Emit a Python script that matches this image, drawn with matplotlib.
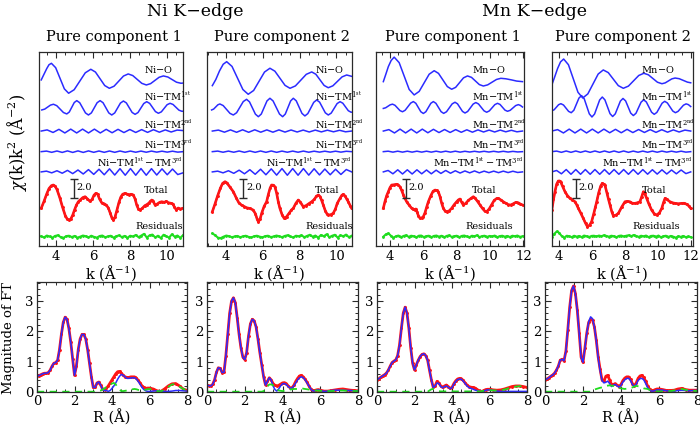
import numpy as np
import matplotlib
matplotlib.use("Agg")
import matplotlib.pyplot as plt
from matplotlib.ticker import MultipleLocator, FixedLocator
from matplotlib.transforms import blended_transform_factory

# ---------------- chi(k)k^2 data (top row) ----------------
# Ni K-edge, pure component 1
NI1_KRANGE = (3.2, 10.86)
NI1_O_K = [3.2, 3.35, 3.5, 3.62, 3.75, 3.98, 4.215, 4.45, 4.68, 4.98, 5.28, 5.58, 5.88, 6.13, 6.38, 6.63, 6.88,
           7.135, 7.39, 7.645, 7.9, 8.145, 8.39, 8.635, 8.88, 9.11, 9.34, 9.57, 9.8, 10.04, 10.275, 10.51, 10.75, 10.86]
NI1_O = [-0.1, 0.5, 1.1, 1.5, 1.65, 1.19, 0.075, -1.04, -1.5, -1.13, -0.24, 0.65, 1.02, 0.73, 0.02, -0.69, -0.98,
         -0.76, -0.225, 0.31, 0.53, 0.36, -0.05, -0.46, -0.63, -0.49, -0.155, 0.18, 0.32, 0.21, -0.065, -0.34, -0.45, -0.43]
NI1_TM1_K = [3.23, 3.39, 3.545, 3.70, 3.86, 4.04, 4.22, 4.40, 4.58, 4.715, 4.85, 4.985, 5.12, 5.28, 5.435, 5.59, 5.75,
             5.91, 6.065, 6.22, 6.38, 6.54, 6.695, 6.85, 7.01, 7.17, 7.325, 7.48, 7.64, 7.80, 7.955, 8.11, 8.27, 8.43,
             8.585, 8.74, 8.9, 9.06, 9.215, 9.37, 9.53, 9.69, 9.845, 10.0, 10.16, 10.32, 10.48, 10.64, 10.8, 10.86]
NI1_TM1 = [-0.26, -0.17, 0.04, 0.25, 0.34, 0.19, -0.17, -0.53, -0.68, -0.48, 0.02, 0.52, 0.72, 0.50, -0.035, -0.57, -0.79,
           -0.57, -0.035, 0.50, 0.72, 0.50, -0.035, -0.57, -0.79, -0.575, -0.055, 0.465, 0.68, 0.48, -0.02, -0.52, -0.72,
           -0.53, -0.055, 0.415, 0.61, 0.43, 0.0, -0.43, -0.61, -0.46, -0.085, 0.29, 0.44, 0.32, 0.02, -0.28, -0.4, -0.39]
NI1_TM2 = [0.0, 0.12, -0.15, 0.18, -0.2, 0.2, -0.2, 0.2, -0.2, 0.2, -0.2, 0.18, -0.18, 0.18, -0.16, 0.16, -0.15, 0.15,
           -0.14, 0.14, -0.12, 0.12, -0.1, 0.1, 0.05]
NI1_TM3 = [0, 0.06, -0.07, 0.07, -0.08, 0.08, -0.08, 0.08, -0.08, 0.08, -0.07, 0.07, -0.07, 0.07, -0.07, 0.07, -0.06,
           0.06, -0.06, 0.06, -0.06, 0.06, -0.05, 0.05, -0.05, 0.05, -0.05, 0.0]
NI1_TM13 = [0.0, 0.08, -0.1, 0.12, -0.14, 0.16, -0.18, 0.2, -0.22, 0.24, -0.26, 0.28, -0.3, 0.32, -0.33, 0.34, -0.35,
            0.35, -0.35, 0.35, -0.35, 0.34, -0.33, 0.32, -0.3, 0.3, -0.28, -0.1]
NI1_TOT_K = [3.2, 3.35, 3.5, 3.62, 3.75, 3.85, 3.95, 4.05, 4.2, 4.35, 4.5, 4.6, 4.7, 4.8, 4.9, 5.0, 5.1, 5.2, 5.3, 5.45,
             5.57, 5.7, 5.84, 5.95, 6.05, 6.15, 6.25, 6.35, 6.47, 6.6, 6.72, 6.83, 6.93, 7.03, 7.1, 7.18, 7.28, 7.4, 7.5,
             7.6, 7.73, 7.85, 7.95, 8.05, 8.18, 8.28, 8.36, 8.45, 8.54, 8.65, 8.8, 8.9, 9.0, 9.1, 9.17, 9.25, 9.35, 9.45,
             9.6, 9.71, 9.85, 9.95, 10.07, 10.2, 10.3, 10.4, 10.5, 10.6, 10.7, 10.85]
NI1_TOT = [-0.03, 0.7, 1.5, 2.05, 2.35, 2.42, 2.3, 1.95, 1.1, 0.1, -0.8, -1.15, -1.26, -1.15, -0.75, -0.2, 0.3, 0.65,
           0.84, 1.1, 1.19, 0.95, 0.7, 0.9, 1.35, 1.55, 1.45, 0.95, 0.55, 0.45, 0.3, 0.0, -0.55, -1.1, -1.26, -1.0, -0.3,
           0.6, 1.15, 1.45, 1.55, 1.45, 1.4, 1.45, 1.37, 0.9, 0.3, -0.1, -0.21, -0.05, 0.25, 0.35, 0.49, 0.7, 0.84, 0.7,
           0.32, 0.4, 0.6, 0.66, 0.6, 0.7, 0.56, 0.5, 0.45, 0.1, -0.21, 0.0, -0.1, -0.03]
NI1_RES = [0.05, -0.08, 0.12, 0.02, -0.1, 0.08, 0.15, -0.05, -0.12, 0.06, 0.1, -0.04, 0.08, -0.1, 0.0, 0.12, 0.05, -0.08,
           0.1, -0.02, -0.1, 0.07, 0.12, -0.06, 0.03, 0.1, -0.1, 0.05, 0.14, -0.04, 0.08, -0.12, 0.1, 0.02, 0.18, -0.05,
           0.12, 0.3, -0.1, 0.15, 0.22, -0.08, 0.1, -0.15, 0.2, 0.05, -0.1, 0.25, 0.0, 0.12, -0.12, 0.15]

# Ni K-edge, pure component 2
NI2_KRANGE = (3.26, 10.83)
NI2_O_K = [3.26, 3.45, 3.65, 3.85, 4.04, 4.33, 4.625, 4.92, 5.21, 5.505, 5.8, 6.095, 6.39, 6.66, 6.935, 7.21, 7.48,
           7.775, 8.07, 8.365, 8.66, 8.885, 9.11, 9.335, 9.56, 9.81, 10.06, 10.31, 10.56, 10.83]
NI2_O = [-0.7, -0.05, 0.85, 1.55, 1.82, 1.32, 0.105, -1.11, -1.61, -1.21, -0.24, 0.73, 1.13, 0.82, 0.075, -0.67, -0.98,
         -0.73, -0.12, 0.49, 0.74, 0.5, -0.09, -0.68, -0.92, -0.72, -0.25, 0.22, 0.42, 0.28]
NI2_TM1_K = [3.22, 3.33, 3.445, 3.56, 3.67, 3.85, 4.035, 4.22, 4.4, 4.58, 4.76, 4.94, 5.12, 5.28, 5.44, 5.6, 5.76, 5.92,
             6.075, 6.23, 6.39, 6.56, 6.735, 6.91, 7.08, 7.225, 7.37, 7.515, 7.66, 7.82, 7.975, 8.13, 8.29, 8.45, 8.61,
             8.77, 8.93, 9.09, 9.245, 9.4, 9.56, 9.72, 9.88, 10.04, 10.2, 10.35, 10.5, 10.65, 10.8, 10.85]
NI2_TM1 = [-0.26, -0.17, 0.055, 0.28, 0.37, 0.2, -0.21, -0.62, -0.79, -0.55, 0.035, 0.62, 0.86, 0.59, -0.055, -0.70,
           -0.97, -0.69, 0.0, 0.69, 0.97, 0.69, 0.0, -0.69, -0.97, -0.69, 0.0, 0.69, 0.97, 0.70, 0.04, -0.62, -0.89,
           -0.64, -0.05, 0.54, 0.79, 0.56, 0.0, -0.56, -0.79, -0.59, -0.09, 0.41, 0.61, 0.45, 0.055, -0.34, -0.5, -0.49]
NI2_TM2 = [0.0, 0.1, -0.12, 0.12, -0.13, 0.13, -0.13, 0.13, -0.12, 0.12, -0.12, 0.12, -0.11, 0.11, -0.1, 0.1, -0.1, 0.1,
           -0.09, 0.09, -0.08, 0.08, -0.08, 0.0]
NI2_TM3 = [0, 0.06, -0.06, 0.06, -0.06, 0.07, -0.07, 0.07, -0.07, 0.07, -0.07, 0.07, -0.07, 0.06, -0.06, 0.06, -0.06,
           0.06, -0.06, 0.05, -0.05, 0.05, -0.05, 0.05, -0.05, 0.04, 0.0]
NI2_TM13 = [0.0, 0.08, -0.1, 0.12, -0.15, 0.18, -0.2, 0.23, -0.25, 0.28, -0.3, 0.32, -0.34, 0.35, -0.35, 0.35, -0.35,
            0.35, -0.34, 0.33, -0.32, 0.3, -0.3, 0.28, -0.27, 0.25, 0.0]
NI2_TOT_K = [3.26, 3.4, 3.55, 3.7, 3.82, 3.95, 4.05, 4.2, 4.4, 4.55, 4.7, 4.85, 5.0, 5.12, 5.3, 5.48, 5.6, 5.7, 5.76,
             5.85, 5.95, 6.08, 6.21, 6.3, 6.4, 6.48, 6.58, 6.66, 6.75, 6.85, 6.93, 7.05, 7.15, 7.21, 7.3, 7.45, 7.56,
             7.66, 7.8, 7.93, 8.05, 8.2, 8.35, 8.5, 8.66, 8.8, 8.92, 9.02, 9.12, 9.2, 9.29, 9.4, 9.5, 9.56, 9.7, 9.83,
             9.95, 10.05, 10.2, 10.3, 10.38, 10.48, 10.56, 10.65, 10.75, 10.83]
NI2_TOT = [-0.39, 0.4, 1.3, 2.1, 2.6, 2.77, 2.65, 2.25, 1.72, 1.1, 0.55, 0.3, 0.15, 0.03, -0.05, -0.21, -0.6, -1.2, -1.44,
           -1.2, -0.5, 0.2, 0.66, 1.4, 2.1, 2.42, 2.4, 2.24, 1.6, 0.6, -0.03, -0.7, -1.05, -1.08, -0.9, -0.5, -0.2, -0.03,
           0.5, 0.84, 0.6, 0.14, 0.25, 0.45, 0.66, 0.9, 1.25, 1.37, 1.2, 0.8, 0.32, -0.3, -0.65, -0.74, -0.7, -0.56,
           -0.1, 0.5, 1.02, 1.35, 1.44, 1.25, 0.95, 0.66, 0.25, -0.03]
NI2_RES = [0.35, 0.15, -0.1, -0.15, 0.0, 0.12, 0.05, -0.05, 0.02, 0.08, -0.06, 0.04, 0.1, -0.02, -0.08, 0.05, 0.1, 0.0,
           -0.06, 0.06, 0.1, -0.04, 0.02, 0.12, 0.05, -0.05, 0.08, 0.15, 0.02, -0.08, 0.1, 0.05, 0.15, -0.05, 0.08, 0.2,
           0.0, 0.12, -0.1, 0.18, 0.05, 0.25, -0.05, 0.1, 0.2, -0.1, 0.15, 0.05, 0.22, -0.05, 0.1]

# Mn K-edge, pure component 1
MN1_KRANGE = (3.6, 11.95)
MN1_O_K = [3.6, 3.75, 3.9, 4.07, 4.25, 4.55, 4.85, 5.15, 5.45, 5.75, 6.05, 6.35, 6.65, 6.91, 7.175, 7.44, 7.7, 7.94,
           8.175, 8.41, 8.65, 8.89, 9.125, 9.36, 9.6, 9.86, 10.125, 10.39, 10.65, 10.95, 11.3, 11.6, 11.95]
MN1_O = [-0.28, 0.5, 1.3, 1.95, 2.3, 1.72, 0.31, -1.10, -1.68, -1.31, -0.405, 0.50, 0.87, 0.59, -0.105, -0.80, -1.08,
         -0.88, -0.38, 0.12, 0.32, 0.17, -0.21, -0.59, -0.74, -0.62, -0.335, -0.05, 0.07, 0.02, -0.1, -0.22, -0.28]
MN1_TM1_K = [3.6, 3.74, 3.875, 4.01, 4.15, 4.3, 4.45, 4.6, 4.75, 4.91, 5.075, 5.24, 5.4, 5.55, 5.7, 5.85, 6.0, 6.15,
             6.3, 6.45, 6.6, 6.755, 6.91, 7.065, 7.22, 7.39, 7.56, 7.73, 7.9, 8.05, 8.2, 8.35, 8.5, 8.66, 8.825, 8.99,
             9.15, 9.31, 9.475, 9.64, 9.8, 9.96, 10.125, 10.29, 10.45, 10.6, 10.75, 10.9, 11.05, 11.21, 11.375, 11.54,
             11.7, 11.82, 11.95]
MN1_TM1 = [-0.1, -0.03, 0.125, 0.28, 0.35, 0.23, -0.05, -0.33, -0.45, -0.29, 0.085, 0.46, 0.62, 0.44, -0.005, -0.45,
           -0.63, -0.45, -0.005, 0.44, 0.62, 0.44, 0.0, -0.44, -0.62, -0.45, -0.035, 0.38, 0.55, 0.385, -0.015, -0.415,
           -0.58, -0.42, -0.03, 0.36, 0.52, 0.37, 0.01, -0.35, -0.5, -0.36, -0.03, 0.30, 0.44, 0.32, 0.02, -0.28, -0.4,
           -0.3, -0.05, 0.2, 0.3, 0.22, 0.05]
MN1_TM2 = [0.0, 0.15, -0.2, 0.2, -0.2, 0.2, -0.2, 0.2, -0.18, 0.18, -0.16, 0.16, -0.15, 0.15, -0.13, 0.13, -0.12, 0.12,
           -0.1, 0.1, -0.1, 0.1, -0.08, 0.08, -0.08, 0.0]
MN1_TM3 = [0, 0.05, -0.05, 0.05, -0.05, 0.05, -0.05, 0.05, -0.05, 0.05, -0.05, 0.05, -0.05, 0.05, -0.05, 0.05, -0.05,
           0.04, -0.04, 0.04, -0.04, 0.04, -0.04, 0.04, -0.04, 0.04, -0.04, 0.03, -0.03, 0.0]
MN1_TM13 = [0.0, 0.15, -0.2, 0.22, -0.22, 0.22, -0.22, 0.22, -0.2, 0.2, -0.2, 0.18, -0.16, 0.15, -0.14, 0.12, -0.12,
            0.1, -0.1, 0.1, -0.1, 0.08, -0.08, 0.08, -0.08, 0.08, -0.07, 0.07, -0.06, 0.0]
MN1_TOT_K = [3.6, 3.7, 3.8, 3.9, 4.0, 4.1, 4.25, 4.4, 4.5, 4.6, 4.7, 4.8, 4.9, 5.0, 5.15, 5.3, 5.4, 5.5, 5.55, 5.62,
             5.7, 5.8, 5.9, 6.0, 6.1, 6.2, 6.3, 6.45, 6.58, 6.7, 6.8, 6.9, 7.0, 7.1, 7.2, 7.3, 7.4, 7.55, 7.7, 7.85,
             8.0, 8.1, 8.2, 8.3, 8.4, 8.55, 8.7, 8.85, 9.0, 9.1, 9.25, 9.4, 9.55, 9.7, 9.8, 9.95, 10.1, 10.25, 10.4,
             10.5, 10.65, 10.8, 10.95, 11.1, 11.25, 11.4, 11.55, 11.7, 11.82, 11.95]
MN1_TOT = [-0.03, 0.7, 1.3, 1.72, 2.15, 2.42, 2.45, 2.5, 2.4, 2.24, 1.85, 1.4, 1.0, 0.66, 0.3, -0.03, -0.15, -0.21,
           -0.1, -0.4, -0.8, -1.08, -1.05, -0.91, -0.5, 0.1, 0.66, 1.3, 1.75, 1.89, 1.85, 1.72, 1.2, 0.5, -0.03, -0.3,
           -0.39, -0.3, -0.03, 0.35, 0.66, 0.85, 0.95, 0.6, 0.32, 0.5, 0.8, 1.0, 1.19, 1.05, 0.7, 0.32, -0.05, -0.35,
           -0.39, -0.1, 0.35, 0.8, 1.0, 1.02, 0.85, 0.66, 0.5, 0.35, 0.32, 0.45, 0.6, 0.55, 0.42, 0.32]
MN1_RES = [0.0, 0.25, 0.35, 0.1, -0.1, 0.05, 0.12, -0.05, 0.08, 0.15, -0.02, 0.1, 0.05, -0.08, 0.1, 0.12, -0.04, 0.06,
           0.1, -0.05, 0.08, 0.12, 0.0, 0.1, -0.06, 0.08, 0.14, -0.02, 0.05, 0.1, -0.05, 0.08, 0.12, 0.02, -0.06, 0.1,
           0.04, 0.15, -0.04, 0.06, 0.1, -0.02, 0.08, 0.02, 0.12, -0.05, 0.06, 0.1, 0.0, 0.08, -0.04, 0.1, 0.05, 0.12,
           -0.02, 0.05]

# Mn K-edge, pure component 2
MN2_KRANGE = (3.55, 12.0)
MN2_O_K = [3.55, 3.72, 3.9, 4.08, 4.27, 4.56, 4.85, 5.14, 5.43, 5.74, 6.055, 6.37, 6.68, 6.985, 7.29, 7.595, 7.9, 8.21,
           8.525, 8.84, 9.15, 9.425, 9.7, 9.975, 10.25, 10.45, 10.65, 10.85, 11.05, 11.3, 11.55, 11.8, 12.0]
MN2_O = [-0.63, 0.2, 1.1, 1.8, 2.1, 1.5, 0.05, -1.4, -2.0, -1.57, -0.525, 0.52, 0.95, 0.67, -0.015, -0.70, -0.98, -0.75,
         -0.19, 0.37, 0.6, 0.44, 0.05, -0.34, -0.5, -0.41, -0.2, 0.01, 0.1, 0.03, -0.15, -0.33, -0.4]
MN2_TM1_K = [3.55, 3.69, 3.825, 3.96, 4.1, 4.26, 4.415, 4.57, 4.73, 4.89, 5.045, 5.2, 5.36, 5.52, 5.675, 5.83, 5.99,
             6.15, 6.305, 6.46, 6.62, 6.78, 6.935, 7.09, 7.25, 7.41, 7.565, 7.72, 7.88, 8.04, 8.195, 8.35, 8.51, 8.67,
             8.825, 8.98, 9.14, 9.3, 9.46, 9.62, 9.78, 9.94, 10.1, 10.26, 10.42, 10.58, 10.745, 10.91, 11.07, 11.23,
             11.395, 11.56, 11.72, 11.86, 12.0]
MN2_TM1 = [-0.35, -0.24, 0.025, 0.29, 0.4, 0.26, -0.075, -0.41, -0.55, -0.29, 0.35, 0.99, 1.25, 0.92, 0.125, -0.67,
           -1.0, -0.69, 0.05, 0.79, 1.1, 0.8, 0.075, -0.65, -0.95, -0.67, 0.0, 0.67, 0.95, 0.69, 0.05, -0.59, -0.85,
           -0.61, -0.025, 0.56, 0.8, 0.58, 0.04, -0.5, -0.72, -0.52, -0.035, 0.45, 0.65, 0.475, 0.05, -0.375, -0.55,
           -0.41, -0.085, 0.24, 0.38, 0.3, 0.1]
MN2_TM2 = [0.0, 0.15, -0.2, 0.2, -0.2, 0.2, -0.2, 0.2, -0.2, 0.2, -0.18, 0.18, -0.18, 0.18, -0.16, 0.16, -0.15, 0.15,
           -0.14, 0.14, -0.12, 0.12, -0.1, 0.1, 0.0]
MN2_TM3 = [0, 0.06, -0.07, 0.07, -0.07, 0.07, -0.07, 0.07, -0.07, 0.07, -0.07, 0.07, -0.07, 0.07, -0.07, 0.07, -0.07,
           0.06, -0.06, 0.06, -0.06, 0.06, -0.06, 0.06, -0.05, 0.05, -0.05, 0.05, -0.05, 0.0]
MN2_TM13 = [0.0, 0.15, -0.2, 0.25, -0.25, 0.25, -0.25, 0.25, -0.25, 0.25, -0.25, 0.25, -0.25, 0.25, -0.25, 0.25, -0.25,
            0.25, -0.25, 0.24, -0.24, 0.23, -0.23, 0.22, -0.22, 0.2, -0.2, 0.2, -0.18, 0.0]
MN2_TOT_K = [3.55, 3.65, 3.74, 3.84, 3.94, 4.02, 4.1, 4.2, 4.35, 4.5, 4.65, 4.8, 4.96, 5.06, 5.16, 5.3, 5.46, 5.6, 5.72,
             5.85, 5.97, 6.1, 6.2, 6.28, 6.4, 6.52, 6.62, 6.72, 6.78, 6.9, 7.0, 7.09, 7.2, 7.29, 7.45, 7.6, 7.8, 8.0,
             8.15, 8.3, 8.45, 8.61, 8.75, 8.91, 9.02, 9.12, 9.2, 9.32, 9.45, 9.62, 9.78, 9.93, 10.1, 10.24, 10.35,
             10.44, 10.55, 10.74, 10.9, 11.05, 11.25, 11.45, 11.6, 11.76, 11.9, 12.0]
MN2_TOT = [-0.21, 0.9, 1.72, 2.5, 2.84, 2.85, 2.7, 2.3, 1.72, 1.3, 1.02, 0.85, 0.66, 0.35, -0.03, -0.5, -1.08, -1.6,
           -1.97, -1.8, -1.44, -0.6, 0.1, 0.66, 1.6, 2.3, 2.6, 2.5, 2.42, 1.6, 0.9, 0.32, -0.4, -0.81, -0.75, -0.56, 0.1,
           0.66, 0.7, 0.66, 0.5, 0.49, 0.55, 0.66, 1.2, 1.72, 1.55, 1.02, 0.45, -0.21, -0.6, -0.74, -0.5, -0.03, 0.6,
           1.02, 0.9, 0.66, 0.55, 0.49, 0.45, 0.49, 0.5, 0.39, 0.2, -0.03]
MN2_RES = [0.0, 0.3, 0.55, 0.4, 0.05, -0.1, 0.1, 0.05, -0.05, 0.1, 0.0, 0.08, -0.05, 0.12, 0.05, -0.04, 0.08, 0.1, 0.02,
           0.12, 0.05, 0.15, 0.08, 0.0, 0.1, 0.05, -0.06, 0.08, 0.12, 0.02, 0.1, 0.15, 0.05, 0.18, 0.08, -0.02, 0.1,
           0.04, 0.12, -0.05, 0.08, 0.1, 0.0, 0.12, -0.06, 0.05, 0.1, -0.02, 0.08, 0.0, -0.1, 0.05, -0.02, 0.08, -0.05,
           0.02, -0.04]

# ---------------- Fourier transform magnitudes (bottom row) ----------------
R_GRID = np.round(np.concatenate([np.arange(0.0, 6.05, 0.1), np.arange(6.2, 8.05, 0.2)]), 2)

NI1_FT_DATA = [0.52, 0.54, 0.57, 0.60, 0.62, 0.62, 0.64, 0.72, 0.85, 0.95,
               0.97, 1.05, 1.40, 1.90, 2.30, 2.47, 2.40, 2.10, 1.65, 1.10,
               0.55, 0.85, 1.40, 1.75, 1.90, 1.90, 1.75, 1.40, 0.95, 0.50,
               0.15, 0.15, 0.30, 0.33, 0.22, 0.10, 0.08, 0.12, 0.20, 0.30,
               0.40, 0.50, 0.60, 0.67, 0.68, 0.62, 0.55, 0.50, 0.48, 0.48,
               0.50, 0.50, 0.50, 0.46, 0.38, 0.30, 0.20, 0.15, 0.12, 0.13,
               0.13, 0.10, 0.04, 0.02, 0.10, 0.20, 0.27, 0.28, 0.20, 0.10, 0.05]
NI1_FT_FIT = [0.52, 0.54, 0.57, 0.60, 0.62, 0.62, 0.64, 0.72, 0.85, 0.95,
              0.97, 1.05, 1.40, 1.90, 2.30, 2.47, 2.40, 2.10, 1.65, 1.10,
              0.55, 0.85, 1.40, 1.75, 1.90, 1.90, 1.75, 1.40, 0.95, 0.50,
              0.15, 0.15, 0.30, 0.33, 0.22, 0.08, 0.05, 0.05, 0.02, 0.05,
              0.12, 0.20, 0.30, 0.42, 0.52, 0.58, 0.55, 0.50, 0.45, 0.45,
              0.46, 0.47, 0.47, 0.43, 0.35, 0.25, 0.15, 0.08, 0.04, 0.02,
              0.02, 0.03, 0.04, 0.03, 0.02, 0.02, 0.03, 0.05, 0.05, 0.04, 0.03]
NI1_FT_RES = [0.01] * 30 + [0.01, 0.01, 0.02, 0.03, 0.05, 0.08, 0.12, 0.16, 0.20, 0.25,
                            0.28, 0.30, 0.25, 0.15, 0.08, 0.03, 0.03, 0.04, 0.05, 0.07,
                            0.08, 0.09, 0.10, 0.09, 0.07, 0.06, 0.05, 0.06, 0.08, 0.09,
                            0.10, 0.08, 0.03, 0.02, 0.08, 0.17, 0.25, 0.26, 0.18, 0.10, 0.06]

NI2_FT_DATA = [0.22, 0.21, 0.20, 0.25, 0.40, 0.65, 0.80, 0.78, 0.64, 0.65,
               1.20, 1.90, 2.60, 3.00, 3.11, 2.95, 2.45, 1.90, 1.45, 1.15,
               1.07, 1.30, 1.85, 2.25, 2.40, 2.35, 2.15, 1.75, 1.30, 0.90,
               0.50, 0.23, 0.35, 0.47, 0.40, 0.28, 0.22, 0.20, 0.22, 0.26,
               0.30, 0.31, 0.28, 0.20, 0.14, 0.14, 0.22, 0.35, 0.45, 0.53,
               0.55, 0.50, 0.42, 0.32, 0.20, 0.10, 0.05, 0.05, 0.07, 0.08,
               0.06, 0.03, 0.03, 0.05, 0.07, 0.09, 0.10, 0.08, 0.06, 0.05, 0.04]
NI2_FT_FIT = [0.22, 0.21, 0.20, 0.25, 0.40, 0.65, 0.80, 0.78, 0.64, 0.65,
              1.20, 1.90, 2.60, 3.00, 3.11, 2.95, 2.45, 1.90, 1.45, 1.15,
              1.07, 1.30, 1.85, 2.25, 2.40, 2.35, 2.15, 1.75, 1.30, 0.90,
              0.50, 0.23, 0.35, 0.47, 0.40, 0.20, 0.08, 0.03, 0.10, 0.20,
              0.27, 0.28, 0.25, 0.18, 0.13, 0.13, 0.20, 0.30, 0.40, 0.47,
              0.50, 0.47, 0.40, 0.30, 0.20, 0.10, 0.04, 0.03, 0.06, 0.07,
              0.05, 0.02, 0.03, 0.05, 0.06, 0.06, 0.06, 0.05, 0.05, 0.04, 0.04]
NI2_FT_RES = [0.01] * 30 + [0.03, 0.08, 0.18, 0.25, 0.25, 0.22, 0.15, 0.10, 0.05, 0.04,
                            0.03, 0.04, 0.05, 0.06, 0.08, 0.09, 0.10, 0.10, 0.10, 0.11,
                            0.12, 0.11, 0.10, 0.09, 0.08, 0.07, 0.06, 0.05, 0.05, 0.04,
                            0.04, 0.03, 0.03, 0.03, 0.04, 0.05, 0.05, 0.04, 0.04, 0.03, 0.03]

MN1_FT_DATA = [0.40, 0.44, 0.49, 0.53, 0.57, 0.62, 0.72, 0.85, 0.97, 1.02,
               1.06, 1.20, 1.55, 2.10, 2.60, 2.80, 2.60, 2.10, 1.45, 0.95,
               0.73, 0.90, 1.05, 1.17, 1.24, 1.26, 1.20, 1.05, 0.72, 0.40,
               0.15, 0.20, 0.35, 0.30, 0.20, 0.15, 0.20, 0.23, 0.18, 0.12,
               0.15, 0.28, 0.37, 0.43, 0.45, 0.44, 0.38, 0.30, 0.23, 0.18,
               0.16, 0.15, 0.14, 0.10, 0.06, 0.03, 0.02, 0.05, 0.08, 0.09,
               0.09, 0.07, 0.06, 0.07, 0.10, 0.14, 0.18, 0.20, 0.20, 0.18, 0.15]
MN1_FT_FIT = [0.40, 0.44, 0.49, 0.53, 0.57, 0.62, 0.72, 0.85, 0.97, 1.02,
              1.06, 1.20, 1.55, 2.10, 2.60, 2.80, 2.60, 2.10, 1.45, 0.95,
              0.73, 0.90, 1.05, 1.17, 1.24, 1.26, 1.20, 1.05, 0.72, 0.40,
              0.15, 0.20, 0.30, 0.28, 0.18, 0.14, 0.18, 0.20, 0.16, 0.11,
              0.14, 0.26, 0.35, 0.41, 0.43, 0.42, 0.36, 0.28, 0.20, 0.15,
              0.12, 0.10, 0.07, 0.05, 0.03, 0.01, 0.01, 0.03, 0.06, 0.07,
              0.07, 0.05, 0.03, 0.02, 0.02, 0.02, 0.02, 0.02, 0.02, 0.02, 0.02]
MN1_FT_RES = [0.01] * 28 + [0.05, 0.09,
                            0.10, 0.09, 0.06, 0.03, 0.02, 0.02, 0.02, 0.02, 0.02, 0.02] + [0.02] * 10 + \
             [0.02, 0.02, 0.02, 0.02, 0.02, 0.02, 0.03, 0.04, 0.05, 0.06,
              0.06, 0.05, 0.05, 0.06, 0.08, 0.12, 0.15, 0.18, 0.19, 0.19, 0.17]

MN2_FT_DATA = [0.40, 0.43, 0.47, 0.52, 0.56, 0.62, 0.72, 0.85, 1.05, 1.08,
               1.03, 1.35, 2.05, 2.80, 3.35, 3.50, 3.25, 2.70, 1.95, 1.15,
               0.98, 1.45, 1.95, 2.30, 2.40, 2.38, 2.15, 1.70, 1.15, 0.75,
               0.40, 0.35, 0.52, 0.55, 0.40, 0.25, 0.25, 0.28, 0.22, 0.18,
               0.25, 0.38, 0.46, 0.50, 0.50, 0.42, 0.28, 0.20, 0.30, 0.45,
               0.53, 0.55, 0.48, 0.35, 0.20, 0.10, 0.05, 0.05, 0.08, 0.10,
               0.10, 0.08, 0.05, 0.05, 0.06, 0.10, 0.12, 0.08, 0.06, 0.06, 0.06]
MN2_FT_FIT = [0.40, 0.43, 0.47, 0.52, 0.56, 0.62, 0.72, 0.85, 1.05, 1.08,
              1.03, 1.35, 2.05, 2.80, 3.35, 3.50, 3.25, 2.70, 1.95, 1.15,
              0.98, 1.45, 1.95, 2.32, 2.48, 2.42, 2.15, 1.70, 1.12, 0.70,
              0.38, 0.30, 0.32, 0.36, 0.28, 0.18, 0.23, 0.25, 0.20, 0.16,
              0.22, 0.33, 0.40, 0.45, 0.45, 0.38, 0.25, 0.18, 0.25, 0.38,
              0.44, 0.45, 0.40, 0.28, 0.15, 0.07, 0.03, 0.03, 0.05, 0.07,
              0.07, 0.06, 0.04, 0.03, 0.03, 0.05, 0.06, 0.05, 0.04, 0.05, 0.05]
MN2_FT_RES = [0.01] * 25 + [0.05, 0.08, 0.10, 0.12, 0.14,
                            0.15, 0.18, 0.20, 0.21, 0.22, 0.21, 0.20, 0.18, 0.15, 0.13,
                            0.12, 0.11, 0.10, 0.11, 0.12, 0.14, 0.15, 0.18, 0.20, 0.19,
                            0.18, 0.15, 0.12, 0.11, 0.10, 0.07, 0.05, 0.04, 0.03, 0.02,
                            0.02, 0.02, 0.02, 0.03, 0.05, 0.08, 0.10, 0.07, 0.05, 0.04, 0.03]

# ---------------- style ----------------
plt.rcParams['font.family'] = ['DejaVu Serif']
plt.rcParams['mathtext.fontset'] = 'dejavuserif'
BLUE = '#2b2bff'
RED = '#ff1414'
GREEN = '#1fdc1f'
SPINE = '#2a2a2a'
TICKFS = 9.5

W, H = 700, 426
fig = plt.figure(figsize=(W / 100, H / 100), dpi=100)


def rect(x0, y0, x1, y1):
    return [x0 / W, 1 - y1 / H, (x1 - x0) / W, (y1 - y0) / H]


OFFS = dict(o=17.58, tm1=14.58, tm2=12.1, tm3=9.93, tm13=7.8, tot=4.0, res=0.98)
LAB_Y = dict(o=18.53, tm1=15.68, tm2=12.79, tm3=10.63, tm13=8.74, tot=5.79, res=2.0)


def style_spines(ax):
    for s in ax.spines.values():
        s.set_color(SPINE)
        s.set_linewidth(0.9)


def top_panel(r, xlim, xmajor, el, krange, o_k, o, tm1_k, tm1, tm2, tm3, tm13, tot_k, tot, res,
              lab_k, res_lab_k, bar_k):
    ax = fig.add_axes(r)
    lw = 1.1
    ax.plot(o_k, np.array(o) + OFFS['o'], color=BLUE, lw=lw)
    ax.plot(tm1_k, np.array(tm1) + OFFS['tm1'], color=BLUE, lw=lw)
    ax.plot(np.linspace(*krange, len(tm2)), np.array(tm2) + OFFS['tm2'], color=BLUE, lw=lw)
    ax.plot(np.linspace(*krange, len(tm3)), np.array(tm3) + OFFS['tm3'], color=BLUE, lw=lw)
    ax.plot(np.linspace(*krange, len(tm13)), np.array(tm13) + OFFS['tm13'], color=BLUE, lw=lw)
    ax.plot(tot_k, np.array(tot) + OFFS['tot'], color=BLUE, lw=1.2)
    ax.plot(tot_k, np.array(tot) + OFFS['tot'], color=RED, lw=1.9, marker='.', ms=2.2)
    ax.plot(np.linspace(*krange, len(res)), np.array(res) + OFFS['res'], color=GREEN, lw=1.5,
            marker='.', ms=2)
    ax.set_xlim(*xlim)
    ax.set_ylim(0, 20.42)
    ax.set_yticks([])
    ax.xaxis.set_major_locator(FixedLocator(xmajor))
    ax.xaxis.set_minor_locator(MultipleLocator(0.5))
    ax.tick_params(axis='x', which='both', direction='in', top=True, bottom=True, colors=SPINE,
                   labelcolor='black', labelsize=TICKFS, pad=3)
    ax.tick_params(axis='x', which='major', length=4, width=0.8)
    ax.tick_params(axis='x', which='minor', length=2, width=0.7)
    style_spines(ax)
    fs = 7.0
    names = [('o', el + r'$-$O'), ('tm1', el + r'$-$TM$^{1^{\rm st}}$'),
             ('tm2', el + r'$-$TM$^{2^{\rm nd}}$'), ('tm3', el + r'$-$TM$^{3^{\rm rd}}$'),
             ('tot', 'Total')]
    for key, txt in names:
        ax.text(lab_k, LAB_Y[key], txt, fontsize=fs, ha='left', va='center')
    edge = blended_transform_factory(ax.transAxes, ax.transData)
    ax.text(0.995, LAB_Y['tm13'], el + r'$-$TM$^{1^{\rm st}}-$TM$^{3^{\rm rd}}$', fontsize=fs,
            ha='right', va='center', transform=edge)
    ax.text(res_lab_k, LAB_Y['res'], 'Residuals', fontsize=fs, ha='left', va='center')
    ax.errorbar([bar_k], [6.07], yerr=[1.0], color=SPINE, lw=1.0, capsize=2.6, capthick=1.0)
    ax.text(bar_k + 0.15, 6.15, '2.0', fontsize=fs, ha='left', va='center')
    ax.text(0.5, -0.14, r'k (Å$^{-1}$)', transform=ax.transAxes, ha='center', va='center', fontsize=10.5)
    return ax


def ft_panel(r, data, fit, resid):
    ax = fig.add_axes(r)
    ax.plot(R_GRID, data, color=RED, lw=2.0, marker='.', ms=2.2)
    ax.plot(R_GRID, fit, color=BLUE, lw=1.1)
    ax.plot(R_GRID, resid, color=GREEN, lw=1.3, ls=(0, (4, 3)))
    ax.set_xlim(0, 8)
    ax.set_ylim(0, 3.63)
    ax.xaxis.set_major_locator(FixedLocator([0, 2, 4, 6, 8]))
    ax.xaxis.set_minor_locator(MultipleLocator(0.5))
    ax.yaxis.set_major_locator(FixedLocator([0, 1, 2, 3]))
    ax.yaxis.set_minor_locator(MultipleLocator(0.2))
    ax.tick_params(which='both', direction='in', top=True, bottom=True, left=True, right=True,
                   colors=SPINE, labelcolor='black', labelsize=TICKFS, pad=2.5)
    ax.tick_params(which='major', length=4, width=0.8)
    ax.tick_params(which='minor', length=2, width=0.7)
    style_spines(ax)
    ax.text(0.5, -0.235, 'R (Å)', transform=ax.transAxes, ha='center', va='center', fontsize=10.5)
    return ax


top_panel(rect(39, 52, 183, 246), (3.08, 10.86), [4, 6, 8, 10], 'Ni', NI1_KRANGE, NI1_O_K, NI1_O,
          NI1_TM1_K, NI1_TM1, NI1_TM2, NI1_TM3, NI1_TM13, NI1_TOT_K, NI1_TOT, NI1_RES,
          8.76, 8.27, 4.97)
top_panel(rect(207, 52, 352, 246), (2.97, 10.85), [4, 6, 8, 10], 'Ni', NI2_KRANGE, NI2_O_K, NI2_O,
          NI2_TM1_K, NI2_TM1, NI2_TM2, NI2_TM3, NI2_TM13, NI2_TOT_K, NI2_TOT, NI2_RES,
          8.84, 8.3, 4.94)
top_panel(rect(376, 52, 524, 246), (3.16, 12.04), [4, 6, 8, 10, 12], 'Mn', MN1_KRANGE, MN1_O_K, MN1_O,
          MN1_TM1_K, MN1_TM1, MN1_TM2, MN1_TM3, MN1_TM13, MN1_TOT_K, MN1_TOT, MN1_RES,
          8.92, 8.5, 4.96)
top_panel(rect(552, 52, 693, 246), (3.56, 12.14), [4, 6, 8, 10, 12], 'Mn', MN2_KRANGE, MN2_O_K, MN2_O,
          MN2_TM1_K, MN2_TM1, MN2_TM2, MN2_TM3, MN2_TM13, MN2_TOT_K, MN2_TOT, MN2_RES,
          9.0, 8.45, 5.0)

ft_panel(rect(37, 282, 187, 392), NI1_FT_DATA, NI1_FT_FIT, NI1_FT_RES)
ft_panel(rect(207, 282, 358, 392), NI2_FT_DATA, NI2_FT_FIT, NI2_FT_RES)
ft_panel(rect(377, 282, 527, 392), MN1_FT_DATA, MN1_FT_FIT, MN1_FT_RES)
ft_panel(rect(545, 282, 697, 392), MN2_FT_DATA, MN2_FT_FIT, MN2_FT_RES)

# titles
fig.text(195 / W, 1 - 12 / H, 'Ni K\u2212edge', ha='center', va='center', fontsize=12.5)
fig.text(534 / W, 1 - 12 / H, 'Mn K\u2212edge', ha='center', va='center', fontsize=12.5)
TITLE_X = [(39 + 183) / 2 + 3, (207 + 352) / 2 + 2, (376 + 524) / 2 + 3, (552 + 693) / 2]
TITLE_TXT = ['Pure component 1', 'Pure component 2', 'Pure component 1', 'Pure component 2']
for cx, t in zip(TITLE_X, TITLE_TXT):
    fig.text(cx / W, 1 - 37 / H, t, ha='center', va='center', fontsize=10.5)

fig.text(17 / W, 1 - 142 / H, r'$\chi$(k)k$^2$ (Å$^{-2}$)', rotation=90, ha='center', va='center', fontsize=11.5)
fig.text(9 / W, 1 - 338 / H, 'Magnitude of FT', rotation=90, ha='center', va='center', fontsize=9.5)

fig.savefig('out.png', dpi=100)
